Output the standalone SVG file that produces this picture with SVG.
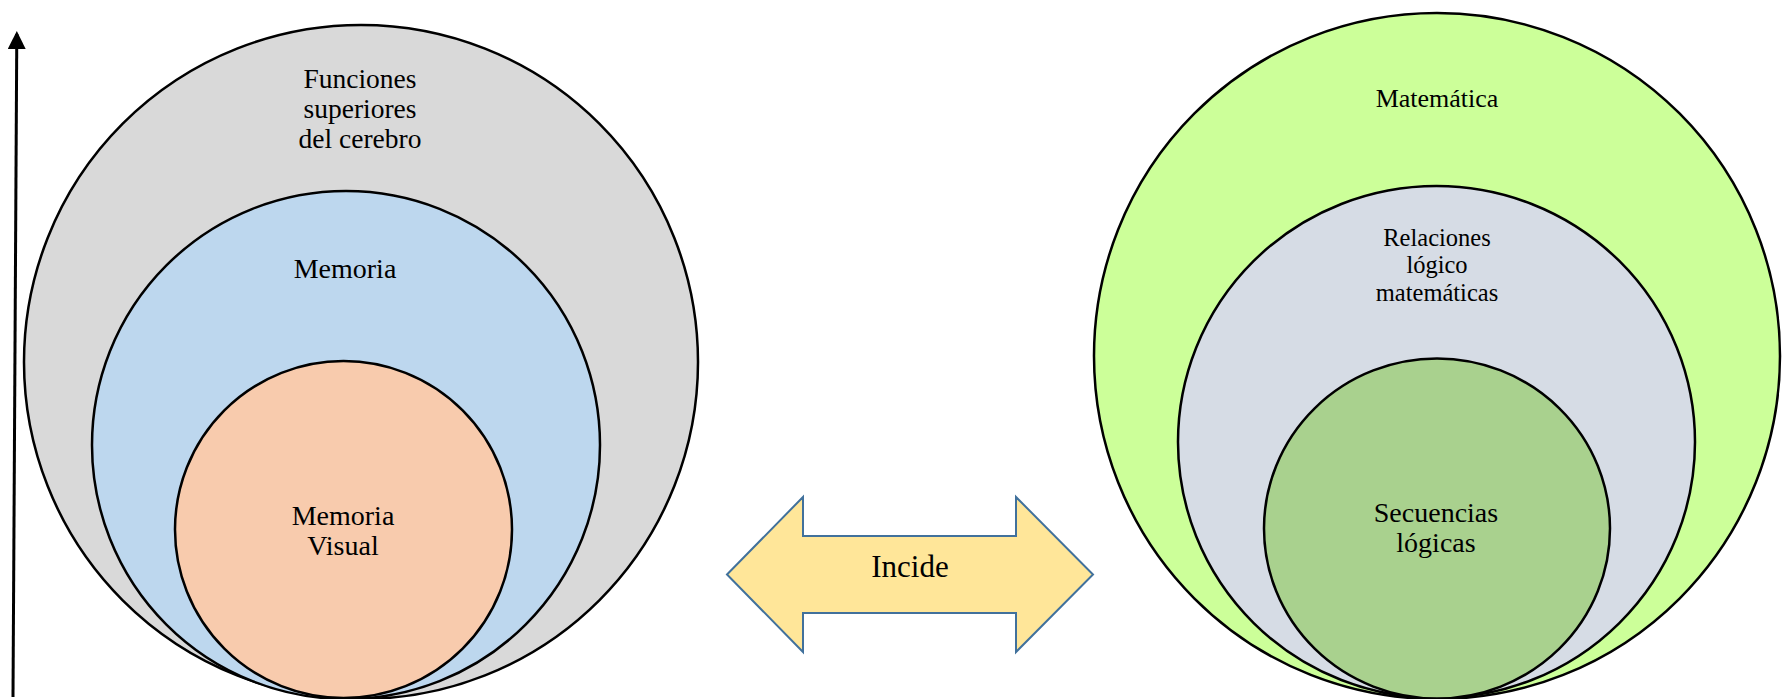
<svg xmlns="http://www.w3.org/2000/svg" width="1791" height="699" viewBox="0 0 1791 699">
<defs>
<style>
.c{stroke:#000;stroke-width:2.5}
.t{font-family:"Liberation Serif","Times New Roman",serif;fill:#000;text-anchor:middle}
</style>
<marker id="ah" markerWidth="6" markerHeight="6" refX="5" refY="3" orient="auto" markerUnits="strokeWidth">
<path d="M0,0 L6,3 L0,6 Z" fill="#000"/>
</marker>
</defs>
<rect width="1791" height="699" fill="#fff"/>
<g id="connectors">
<line x1="13" y1="697" x2="16.8" y2="34" stroke="#000" stroke-width="3" marker-end="url(#ah)"/>
</g>
<g id="funciones">
<circle class="c" cx="361" cy="362" r="337" fill="#D9D9D9"/>
<text class="t" font-size="27.5" x="360" y="88">Funciones</text>
<text class="t" font-size="27.5" x="360" y="118">superiores</text>
<text class="t" font-size="27.5" x="360" y="148">del cerebro</text>
</g>
<g id="memoria">
<circle class="c" cx="346" cy="445" r="254" fill="#BDD7EE"/>
<text class="t" font-size="28" x="345" y="278">Memoria</text>
</g>
<g id="memoria-visual">
<circle class="c" cx="343.5" cy="529.5" r="168.5" fill="#F8CBAD"/>
<text class="t" font-size="28" x="343" y="525">Memoria</text>
<text class="t" font-size="28" x="343" y="555">Visual</text>
</g>
<g id="incide">
<path d="M727,574.5 L803,497 L803,536 L1016,536 L1016,497 L1093,574.5 L1016,652 L1016,613 L803,613 L803,652 Z" fill="#FFE699" stroke="#41719C" stroke-width="2"/>
<text class="t" font-size="31" x="910" y="577">Incide</text>
</g>
<g id="matematica">
<circle class="c" cx="1437" cy="356" r="343" fill="#CCFF99"/>
<text class="t" font-size="26" x="1437" y="107">Matemática</text>
</g>
<g id="relaciones">
<ellipse class="c" cx="1436.5" cy="442" rx="258.5" ry="256" fill="#D6DCE5"/>
<text class="t" font-size="24.5" x="1437" y="246">Relaciones</text>
<text class="t" font-size="24.5" x="1437" y="273">lógico</text>
<text class="t" font-size="24.5" x="1437" y="301">matemáticas</text>
</g>
<g id="secuencias">
<ellipse class="c" cx="1437" cy="528.5" rx="173" ry="170" fill="#A9D18E"/>
<text class="t" font-size="28" x="1436" y="522">Secuencias</text>
<text class="t" font-size="28" x="1436" y="552">lógicas</text>
</g>
</svg>
